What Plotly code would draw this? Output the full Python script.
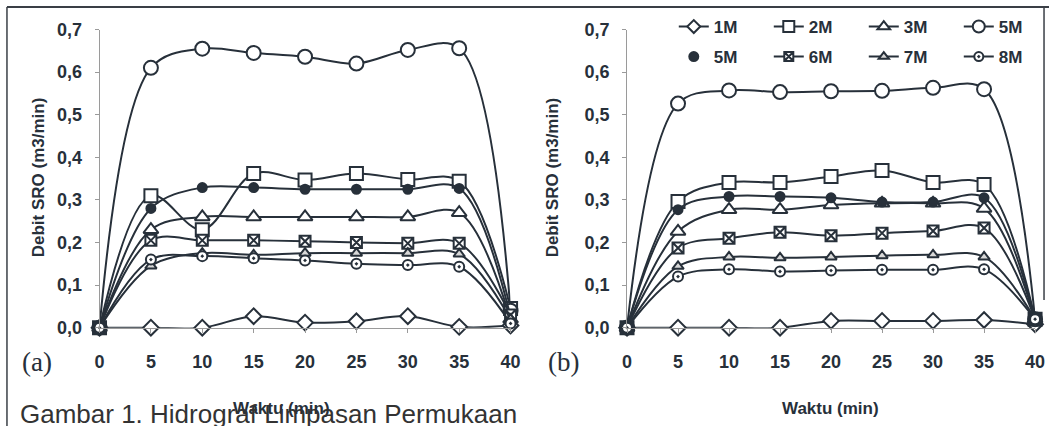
import plotly.graph_objects as go

W, H = 1054, 426

x_min = [0, 5, 10, 15, 20, 25, 30, 35, 40]
series_names = ["1M", "2M", "3M", "5M", "5M", "6M", "7M", "8M"]

# Panel (a)
a_1M = [0, 0.0, 0.0, 0.027, 0.012, 0.015, 0.027, 0.002, 0.005]
a_2M = [0, 0.31, 0.23, 0.362, 0.347, 0.362, 0.348, 0.344, 0.045]
a_3M = [0, 0.23, 0.26, 0.26, 0.26, 0.26, 0.26, 0.27, 0.02]
a_5M = [0, 0.61, 0.655, 0.645, 0.636, 0.62, 0.652, 0.656, 0.04]
a_5Mf = [0, 0.28, 0.329, 0.329, 0.325, 0.325, 0.325, 0.327, 0.025]
a_6M = [0, 0.205, 0.205, 0.205, 0.203, 0.2, 0.198, 0.198, 0.03]
a_7M = [0, 0.145, 0.175, 0.171, 0.175, 0.175, 0.175, 0.173, 0.02]
a_8M = [0, 0.16, 0.168, 0.163, 0.158, 0.15, 0.147, 0.143, 0.01]

# Panel (b)
b_1M = [0, 0.0, 0.0, 0.0, 0.016, 0.016, 0.016, 0.018, 0.008]
b_2M = [0, 0.296, 0.341, 0.341, 0.355, 0.369, 0.341, 0.336, 0.02]
b_3M = [0, 0.226, 0.277, 0.277, 0.288, 0.292, 0.292, 0.28, 0.02]
b_5M = [0, 0.526, 0.557, 0.553, 0.555, 0.556, 0.563, 0.56, 0.02]
b_5Mf = [0, 0.277, 0.308, 0.308, 0.305, 0.295, 0.295, 0.305, 0.02]
b_6M = [0, 0.187, 0.21, 0.224, 0.216, 0.222, 0.227, 0.234, 0.02]
b_7M = [0, 0.144, 0.166, 0.164, 0.166, 0.169, 0.171, 0.166, 0.02]
b_8M = [0, 0.12, 0.137, 0.132, 0.134, 0.136, 0.136, 0.137, 0.02]

y_tickvals = [0, 0.1, 0.2, 0.3, 0.4, 0.5, 0.6, 0.7]
y_ticktext = ["0,0", "0,1", "0,2", "0,3", "0,4", "0,5", "0,6", "0,7"]
x_tickvals = [0, 5, 10, 15, 20, 25, 30, 35, 40]

INK = "#27303a"
BOLD = "Liberation Sans, Arial, sans-serif"

styles = [
    dict(symbol="diamond", size=12, color="white"),
    dict(symbol="square", size=13, color="white"),
    dict(symbol="triangle-up", size=13, color="white"),
    dict(symbol="circle", size=14, color="white"),
    dict(symbol="circle", size=9, color=INK),
    dict(symbol="square-x", size=11, color="white"),
    dict(symbol="triangle-up", size=10, color="#d8d8d8"),
    dict(symbol="circle-dot", size=10, color="white"),
]

panel_a = [a_1M, a_2M, a_3M, a_5M, a_5Mf, a_6M, a_7M, a_8M]
panel_b = [b_1M, b_2M, b_3M, b_5M, b_5Mf, b_6M, b_7M, b_8M]

fig = go.Figure()


def px_x(p):
    return p / W


def px_y(p):
    return 1 - p / H


for axis_idx, data in ((1, panel_a), (2, panel_b)):
    xa = "x" if axis_idx == 1 else "x2"
    ya = "y" if axis_idx == 1 else "y2"
    for i, (name, ys) in enumerate(zip(series_names, data)):
        st = styles[i]
        fig.add_trace(go.Scatter(
            x=x_min, y=ys, name=name, xaxis=xa, yaxis=ya,
            mode="lines+markers",
            line=dict(color=INK, width=2, shape="spline", smoothing=1.0),
            marker=dict(symbol=st["symbol"], size=st["size"], color=st["color"],
                        line=dict(color=INK, width=2)),
            cliponaxis=False, showlegend=False,
        ))

# legend entries (row 1 and row 2)
for i, name in enumerate(series_names):
    st = styles[i]
    leg = "legend" if i < 4 else "legend2"
    mode = "markers" if i == 4 else "lines+markers"
    fig.add_trace(go.Scatter(
        x=[None], y=[None], name=name, mode=mode,
        line=dict(color=INK, width=2),
        marker=dict(symbol=st["symbol"], size=max(st["size"] - 2, 9),
                    color=st["color"], line=dict(color=INK, width=2)),
        legend=leg, showlegend=True, xaxis="x2", yaxis="y2",
    ))

axis_common = dict(showgrid=False, zeroline=False, showline=True, automargin=False,
                   linecolor="#9a9a9a", linewidth=1, ticks="outside",
                   tickcolor="#9a9a9a", ticklen=4,
                   tickfont=dict(family=BOLD, size=18, color=INK, weight="bold"))

y0, y7 = 327.7, 29.5
ydom = [px_y(y0), px_y(y7)]

legend_common = dict(orientation="h", xanchor="left", yanchor="middle",
                     bgcolor="rgba(0,0,0,0)", itemwidth=30, entrywidth=50,
                     font=dict(family=BOLD, size=17, color=INK, weight="bold"),
                     tracegroupgap=0)

fig.update_layout(
    width=W, height=H, margin=dict(l=0, r=0, t=0, b=0),
    paper_bgcolor="white", plot_bgcolor="white",
    xaxis=dict(domain=[px_x(100), px_x(513)], range=[0, 40], tickvals=x_tickvals,
               anchor="y", ticklabelstandoff=14, **axis_common),
    yaxis=dict(domain=ydom, range=[0, 0.7], tickvals=y_tickvals, ticktext=y_ticktext,
               anchor="x", ticklabelstandoff=9, **axis_common),
    xaxis2=dict(domain=[px_x(630), px_x(1040)], range=[0, 40], tickvals=x_tickvals,
                anchor="y2", ticklabelstandoff=14, **axis_common),
    yaxis2=dict(domain=ydom, range=[0, 0.7], tickvals=y_tickvals, ticktext=y_ticktext,
                anchor="x2", ticklabelstandoff=9, **axis_common),
    legend=dict(x=px_x(677), y=px_y(27), **legend_common),
    legend2=dict(x=px_x(677), y=px_y(57), **legend_common),
    showlegend=True,
)

title_font = dict(family=BOLD, size=17, color=INK, weight="bold")
annos = [
    dict(text="Debit SRO (m3/min)", x=px_x(38.5), y=px_y(177), textangle=-90, font=title_font),
    dict(text="Debit SRO (m3/min)", x=px_x(555), y=px_y(177), textangle=-90, font=title_font),
    dict(text="Waktu (min)", x=px_x(834), y=px_y(408), font=title_font),
    dict(text="Waktu (min)", x=px_x(283), y=px_y(408), font=title_font),
    dict(text="(a)", x=px_x(37), y=px_y(362),
         font=dict(family="Liberation Serif, Times New Roman, serif", size=27, color=INK)),
    dict(text="(b)", x=px_x(566), y=px_y(362),
         font=dict(family="Liberation Serif, Times New Roman, serif", size=27, color=INK)),
]
for a in annos:
    fig.add_annotation(xref="paper", yref="paper", showarrow=False,
                       xanchor="center", yanchor="middle", **a)

fig.add_annotation(xref="paper", yref="paper", showarrow=False, xanchor="left", yanchor="middle",
                   x=px_x(18), y=px_y(414), text="Gambar 1. Hidrograf Limpasan Permukaan",
                   font=dict(family="Liberation Sans, Arial", size=26, color="#333"))

# frame of the scanned figure
frame_col = "#3a3f46"
fig.add_shape(type="line", xref="paper", yref="paper", x0=px_x(7), x1=1, y0=px_y(7), y1=px_y(7),
              line=dict(color=frame_col, width=2))
fig.add_shape(type="line", xref="paper", yref="paper", x0=px_x(7), x1=px_x(7), y0=px_y(7), y1=0,
              line=dict(color=frame_col, width=1.5))
fig.add_shape(type="line", xref="paper", yref="paper", x0=px_x(1049), x1=px_x(1049), y0=px_y(7), y1=px_y(300),
              line=dict(color=frame_col, width=1.5))

fig.write_html("out.html")
